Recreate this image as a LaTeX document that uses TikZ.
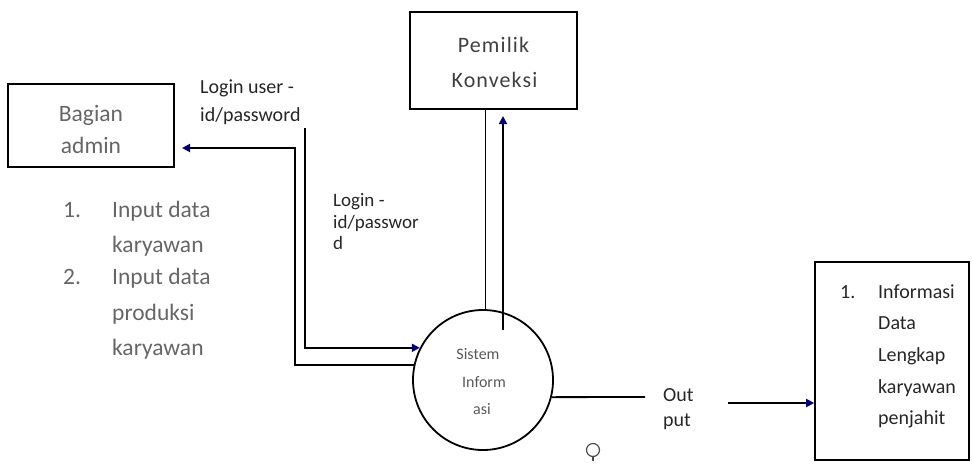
\documentclass[tikz,border=0pt]{standalone}
\usepackage{fontspec}
\setmainfont{Carlito}
\newfontfamily\pemfont[LetterSpace=5]{Carlito}
\usetikzlibrary{arrows.meta}
\begin{document}
\begin{tikzpicture}[x=1pt,y=-1pt,
  box/.style={draw,line width=1.6pt},
  flow/.style={draw,line width=1.8pt},
  arr/.style={flow,-{Triangle[length=8pt,width=8pt,color=blue!45!black]}},
  txt/.style={inner sep=0pt,anchor=base west,text=black!85},
  ctxt/.style={inner sep=0pt,anchor=base,text=black!75},
  f24/.style={font=\fontsize{23.5}{28}\selectfont},
  f20/.style={font=\fontsize{20}{24}\selectfont},
  f19/.style={font=\fontsize{19}{22}\selectfont},
  f16/.style={font=\fontsize{16}{19}\selectfont}]
\useasboundingbox (0,0) rectangle (972,472);
% boxes
\node[box,minimum width=166pt,minimum height=83pt] (admin) at (91,125.5) {};
\node[box,minimum width=167pt,minimum height=97pt] (pem) at (493.5,60.5) {};
\node[box,minimum width=154pt,minimum height=198pt] (info) at (892,361) {};
\node[draw,circle,line width=1.8pt,minimum size=140pt,inner sep=0pt] (sys) at (483,380) {};
% box texts
\node[ctxt,f24,text=black!60] (adm1) at (91,121) {Bagian};
\node[ctxt,f24,text=black!60] (adm2) at (91,153) {admin};
\node[ctxt,font=\pemfont\fontsize{22}{26}\selectfont] (pem1) at (493.5,52) {Pemilik};
\node[ctxt,font=\pemfont\fontsize{22}{26}\selectfont] (pem2) at (494.5,87) {Konveksi};
\node[ctxt,f16,text=black!65] (sys1) at (478,359) {Sistem};
\node[ctxt,f16,text=black!65] (sys2) at (484,387) {Inform};
\node[ctxt,f16,text=black!65] (sys3) at (482,414) {asi};
% info box list
\node[txt,f20] (i0) at (840,298) {1.};
\node[txt,f20] (i1) at (878,298) {Informasi};
\node[txt,f20] (i2) at (878,329) {Data};
\node[txt,f20] (i3) at (878,361) {Lengkap};
\node[txt,f20] (i4) at (878,393) {karyawan};
\node[txt,f20] (i5) at (878,424) {penjahit};
% labels
\node[txt,f20] (lu1) at (200,93) {Login user -};
\node[txt,f20] (lu2) at (200,121) {id/password};
\node[txt,f19] (lp1) at (333,206) {Login -};
\node[txt,f19] (lp2) at (333,228) {id/passwor};
\node[txt,f19] (lp3) at (333,249) {d};
\node[txt,f20] (o1) at (663,401) {Out};
\node[txt,f20] (o2) at (663,426) {put};
% left list
\node[txt,f24,text=black!60] (l1n) at (63,217) {1.};
\node[txt,f24,text=black!60] (l1a) at (112,217) {Input data};
\node[txt,f24,text=black!60] (l1b) at (112,252) {karyawan};
\node[txt,f24,text=black!60] (l2n) at (63,284) {2.};
\node[txt,f24,text=black!60] (l2a) at (112,284) {Input data};
\node[txt,f24,text=black!60] (l2b) at (112,320) {produksi};
\node[txt,f24,text=black!60] (l2c) at (112,355) {karyawan};
% coordinates
\coordinate (aTip) at (182,148);
\coordinate (aCorner) at (295,148);
\coordinate (lStart) at (305,128);
\coordinate (pIn) at (503,330);
\coordinate (pTip) at (503,116);
\coordinate (oEnd) at (645,397);
\coordinate (oStart) at (728,403);
% connectors
\draw[arr] (sys.168.5) -| (aCorner) -- (aTip);
\draw[arr] (lStart) |- (sys.153.7);
\draw[flow] (sys.88.4) -- (sys.88.4 |- pem.south);
\draw[arr] (pIn) -- (pTip);
\draw[flow] (sys.-14) -- (oEnd);
\draw[arr] (oStart) -- (oStart -| info.west);
% stray mark
\draw[line width=1.2pt,black!70] (593,450) circle (6.5);
\draw[line width=1.2pt,black!70] (593,457) -- (593,461);
\end{tikzpicture}
\end{document}
